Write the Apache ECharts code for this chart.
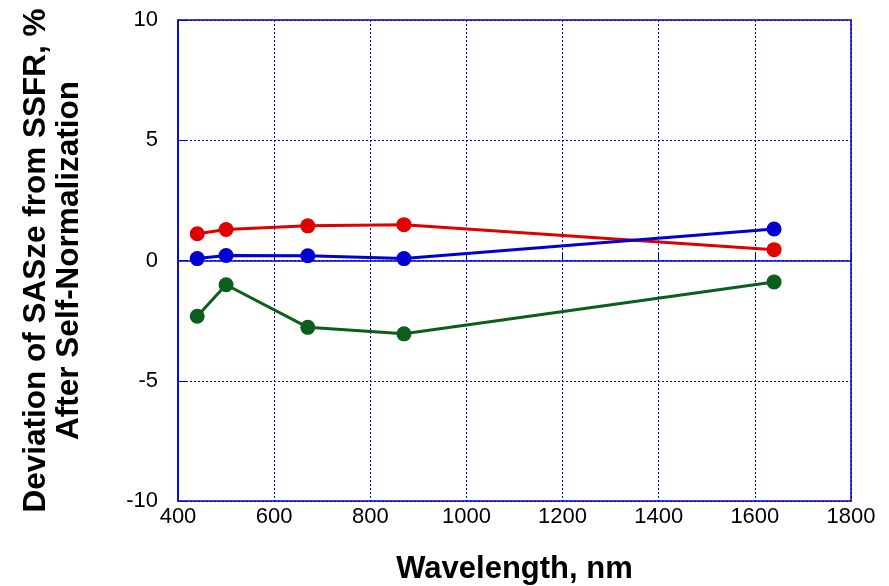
<!DOCTYPE html>
<html>
<head>
<meta charset="utf-8">
<script src="https://cdn.jsdelivr.net/npm/echarts@6/dist/echarts.min.js"></script>
<style>html,body{margin:0;padding:0;background:#fff}#c{width:889px;height:586px}</style>
</head>
<body>
<div id="c"></div>
<script>
var wavelengths = [440, 500, 670, 870, 1640];
var redValues = [1.11, 1.29, 1.44, 1.49, 0.45];
var blueValues = [0.08, 0.21, 0.20, 0.08, 1.31];
var greenValues = [-2.32, -1.01, -2.78, -3.05, -0.89];
var xTicks = [400, 600, 800, 1000, 1200, 1400, 1600, 1800];
var yTicks = [-10, -5, 0, 5, 10];

function pairs(xs, ys) { return xs.map(function (x, i) { return [x, ys[i]]; }); }

var font = '"Liberation Sans", Arial, sans-serif';
var chart = echarts.init(document.getElementById('c'), null, { renderer: 'canvas' });
function mk(name, color, vals) {
  return {
    name: name, type: 'line', data: pairs(wavelengths, vals),
    symbol: 'circle', symbolSize: 15,
    lineStyle: { color: color, width: 3 },
    itemStyle: { color: color },
    z: 5
  };
}
chart.setOption({
  animation: false,
  backgroundColor: '#fff',
  grid: { left: 178, right: 38, top: 20, bottom: 85, containLabel: false, outerBoundsMode: 'none',
          show: true, borderColor: '#0000d0', borderWidth: 1.5 },
  xAxis: {
    type: 'value', min: xTicks[0], max: xTicks[xTicks.length - 1], interval: 200,
    name: 'Wavelength, nm', nameLocation: 'middle', nameGap: 53,
    nameTextStyle: { fontFamily: font, fontSize: 31, fontWeight: 'bold', color: '#000' },
    axisLine: { lineStyle: { color: '#0000d0', width: 1.5 } },
    axisTick: { show: true, inside: true, length: 8, lineStyle: { color: '#0000d0' } },
    axisLabel: { fontFamily: font, fontSize: 22, color: '#000', margin: 5, formatter: function (v) { return String(v); } },
    splitLine: { show: true, lineStyle: { color: '#0000d0', type: [2, 2], width: 1 } }
  },
  yAxis: {
    type: 'value', min: yTicks[0], max: yTicks[yTicks.length - 1], interval: 5,
    name: 'Deviation of SASze from SSFR, %\nAfter Self-Normalization', nameLocation: 'middle', nameGap: 92,
    nameRotate: 90,
    nameTextStyle: { fontFamily: font, fontSize: 31.5, fontWeight: 'bold', color: '#000', lineHeight: 33 },
    axisLine: { lineStyle: { color: '#0000d0', width: 1.5 } },
    axisTick: { show: true, inside: true, length: 8, lineStyle: { color: '#0000d0' } },
    axisLabel: { fontFamily: font, fontSize: 22, color: '#000', margin: 20, padding: [0, 0, 6, 0] },
    splitLine: { show: true, lineStyle: { color: '#0000d0', type: [2, 2], width: 1 } }
  },
  series: [
    mk('red', '#e00000', redValues),
    mk('blue', '#0000d2', blueValues),
    mk('green', '#0b5e1c', greenValues)
  ]
});
</script>
</body>
</html>
